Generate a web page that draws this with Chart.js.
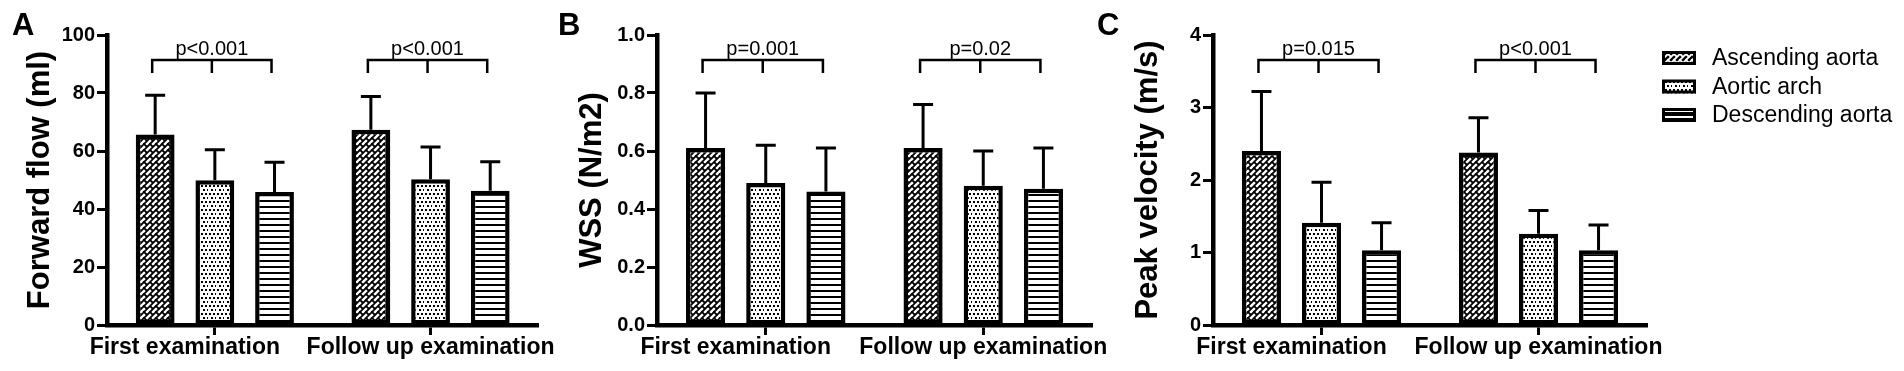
<!DOCTYPE html>
<html>
<head>
<meta charset="utf-8">
<script src="https://cdn.jsdelivr.net/npm/chart.js@4.4.0/dist/chart.umd.min.js"></script>
<style>
  html, body { margin: 0; padding: 0; background: #fff; width: 1904px; height: 371px; overflow: hidden; }
  canvas { position: absolute; top: 0; }
</style>
</head>
<body>
<canvas id="cA" width="560" height="371" style="left:0"></canvas>
<canvas id="cB" width="580" height="371" style="left:540px"></canvas>
<canvas id="cC" width="824" height="371" style="left:1080px"></canvas>
<script>
/* Three grouped bar panels (mean + SD) with a shared legend on the right. */

const categories = ["First examination", "Follow up examination"];
const seriesNames = ["Ascending aorta", "Aortic arch", "Descending aorta"];

// A: forward flow (ml) — rows follow seriesNames, columns follow categories
const flowMean = [[65.7, 67.3], [49.9, 50.3], [45.9, 46.3]];
const flowSd   = [[13.5, 11.5], [10.5, 11.1], [10.2, 10.0]];
const flowP    = ["p<0.001", "p<0.001"];

// B: wall shear stress (N/m2)
const wssMean = [[0.61, 0.61], [0.49, 0.48], [0.46, 0.47]];
const wssSd   = [[0.19, 0.15], [0.13, 0.12], [0.15, 0.14]];
const wssP    = ["p=0.001", "p=0.02"];

// C: peak velocity (m/s)
const velMean = [[2.40, 2.38], [1.41, 1.26], [1.03, 1.03]];
const velSd   = [[0.82, 0.48], [0.56, 0.32], [0.38, 0.35]];
const velP    = ["p=0.015", "p<0.001"];

const FONT = "'Liberation Sans', Arial, sans-serif";

// black & white fill patterns (brick hatch / dots / horizontal lines)
function makePattern(kind, inverse) {
  const s = kind === "asc" ? 12 : kind === "arch" ? 8 : 6;
  const c = document.createElement("canvas");
  c.width = c.height = s;
  const g = c.getContext("2d");
  const fg = inverse ? "#fff" : "#000";
  g.fillStyle = inverse ? "#000" : "#fff";
  g.fillRect(0, 0, s, s);
  g.strokeStyle = fg; g.fillStyle = fg;
  if (kind === "asc") {
    g.lineWidth = 1.8; g.lineCap = "square";
    const segs = [[0, 6, 6, 0], [0, 12, 12, 0], [6, 12, 12, 6],
                  [0, 0, 3, 3], [6, 0, 9, 3], [0, 6, 3, 9], [6, 6, 9, 9]];
    for (const dx of [-12, 0, 12]) for (const dy of [-12, 0, 12]) {
      g.beginPath();
      segs.forEach(([x1, y1, x2, y2]) => { g.moveTo(x1 + dx, y1 + dy); g.lineTo(x2 + dx, y2 + dy); });
      g.stroke();
    }
  } else if (kind === "arch") {
    [[0, 0], [4, 0], [2, 4], [6, 4]].forEach(([x, y]) => g.fillRect(x + 1, y + 1, 2, 2));
  } else {
    g.fillRect(0, 2, s, 2);
  }
  return g.createPattern(c, "repeat");
}
const kinds = ["asc", "arch", "desc"];
const barFills = kinds.map(k => makePattern(k, false));
const legendFills = [makePattern("asc", true), makePattern("arch", false), makePattern("desc", true)];

// error bars, p-value brackets, panel letter, legend
const decor = {
  id: "decor",
  beforeDraw(chart) {
    // the first category label sits left of its tick so the two labels don't collide
    const items = chart.scales.x.getLabelItems();
    if (items[0] && !items[0]._moved) { items[0].options.translation[0] -= 30; items[0]._moved = true; }
  },
  afterDatasetsDraw(chart, args, o) {
    const { ctx } = chart, y = chart.scales.y;
    ctx.save();
    ctx.strokeStyle = "#000"; ctx.fillStyle = "#000";
    ctx.lineWidth = 3;
    chart.data.datasets.forEach((ds, i) => {
      chart.getDatasetMeta(i).data.forEach((bar, j) => {
        const top = y.getPixelForValue(ds.data[j] + ds.sd[j]);
        ctx.beginPath();
        ctx.moveTo(bar.x, bar.y); ctx.lineTo(bar.x, top);
        ctx.moveTo(bar.x - 10, top); ctx.lineTo(bar.x + 10, top);
        ctx.stroke();
      });
    });
    const yl = y.getPixelForValue(y.max * 0.914), yd = y.getPixelForValue(y.max * 0.869);
    ctx.lineWidth = 2.5;
    ctx.font = "20px " + FONT; ctx.textAlign = "center"; ctx.textBaseline = "alphabetic";
    categories.forEach((c, j) => {
      const xs = chart.data.datasets.map((d, i) => chart.getDatasetMeta(i).data[j].x - 3);
      ctx.beginPath();
      ctx.moveTo(xs[0], yd); ctx.lineTo(xs[0], yl); ctx.lineTo(xs[2], yl); ctx.lineTo(xs[2], yd);
      ctx.moveTo(xs[1], yl); ctx.lineTo(xs[1], yd);
      ctx.stroke();
      ctx.fillText(o.pLabels[j], xs[1], yl - 5);
    });
    ctx.restore();
  },
  afterDraw(chart, args, o) {
    const { ctx } = chart;
    ctx.save();
    ctx.fillStyle = "#000";
    ctx.font = "bold 31px " + FONT; ctx.textAlign = "left"; ctx.textBaseline = "alphabetic";
    ctx.fillText(o.letter, o.letterX, 35);
    if (o.legendX != null) {
      ctx.font = "23px " + FONT; ctx.textBaseline = "middle";
      chart.data.datasets.forEach((ds, i) => {
        const cy = 58 + i * 28.5;
        ctx.fillStyle = legendFills[i];
        ctx.fillRect(o.legendX, cy - 7, 34, 14);
        ctx.strokeStyle = "#000"; ctx.lineWidth = 3;
        ctx.strokeRect(o.legendX + 1.5, cy - 5.5, 31, 11);
        ctx.fillStyle = "#000";
        ctx.fillText(ds.label, o.legendX + 50, cy + 1);
      });
    }
    ctx.restore();
  }
};

function panel(id, mean, sd, pLabels, cfg) {
  return new Chart(document.getElementById(id), {
    type: "bar",
    data: {
      labels: categories,
      datasets: seriesNames.map((name, i) => ({
        label: name, data: mean[i], sd: sd[i],
        backgroundColor: barFills[i], borderColor: "#000", borderWidth: 4.5, borderSkipped: false,
        categoryPercentage: 0.83, barPercentage: 0.65,
      })),
    },
    options: {
      responsive: false, animation: false, events: [],
      layout: { padding: { left: 0, right: cfg.padRight, top: 35, bottom: 0 } },
      plugins: {
        legend: { display: false }, tooltip: { enabled: false },
        decor: { pLabels, letter: cfg.letter, letterX: cfg.letterX, legendX: cfg.legendX },
      },
      scales: {
        x: {
          offset: true,
          grid: { display: true, drawOnChartArea: false, offset: false, tickLength: 10, tickWidth: 3, tickColor: "#000" },
          border: { display: true, width: 4.5, color: "#000" },
          ticks: { color: "#000", font: { family: FONT, size: 23, weight: "bold", lineHeight: 1 },
                   padding: 1, maxRotation: 0, autoSkip: false },
          afterFit: s => { s.height = 46; },
        },
        y: {
          min: 0, max: cfg.max,
          grid: { display: true, drawOnChartArea: false, tickLength: 10, tickWidth: 3, tickColor: "#000" },
          border: { display: true, width: 4.5, color: "#000" },
          ticks: { stepSize: cfg.step, callback: cfg.fmt, color: "#000", padding: 2,
                   font: { family: FONT, size: 20, weight: "bold" } },
          title: { display: true, text: cfg.title, color: "#000",
                   font: { family: FONT, size: 31, weight: "bold", lineHeight: 1 },
                   padding: { top: cfg.titlePad, bottom: 0 } },
          afterFit: s => { s.width = cfg.axisW; },
        },
      },
    },
    plugins: [decor],
  });
}

panel("cA", flowMean, flowSd, flowP, {
  letter: "A", letterX: 12, axisW: 107, padRight: 18, titlePad: 24.5,
  max: 100, step: 20, fmt: v => String(v), title: "Forward flow (ml)",
});
panel("cB", wssMean, wssSd, wssP, {
  letter: "B", letterX: 18, axisW: 117, padRight: 28, titlePad: 36.5,
  max: 1, step: 0.2, fmt: v => Number(v).toFixed(1), title: "WSS (N/m2)",
});
panel("cC", velMean, velSd, velP, {
  letter: "C", letterX: 17, axisW: 133, padRight: 257, titlePad: 52.5, legendX: 582,
  max: 4, step: 1, fmt: v => String(v), title: "Peak velocity (m/s)",
});
</script>
</body>
</html>
